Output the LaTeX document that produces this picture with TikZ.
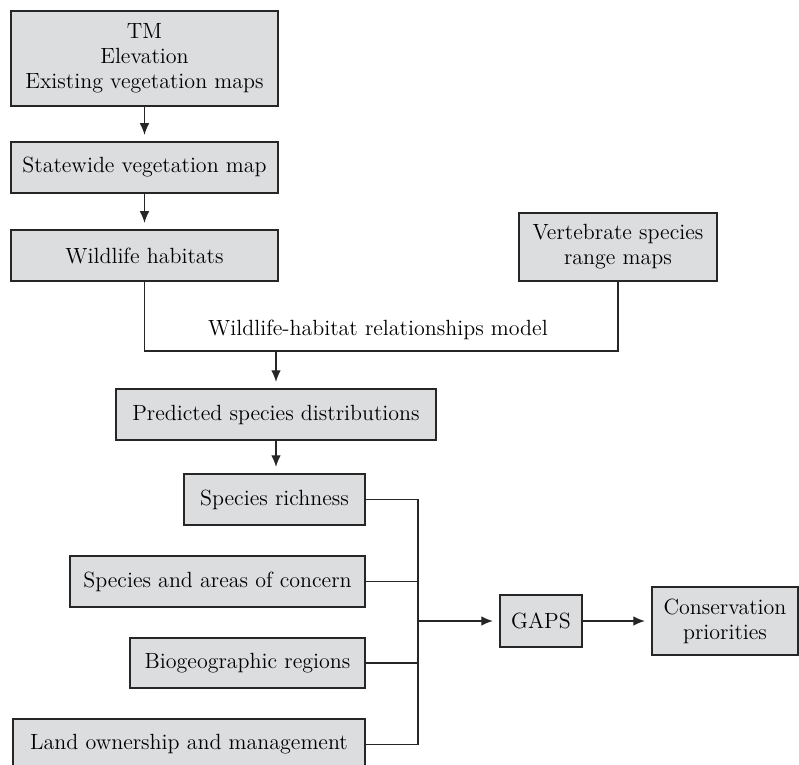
\documentclass[tikz,border=0pt]{standalone}
\usepackage{tikz}
\usetikzlibrary{arrows.meta}
\definecolor{boxgray}{RGB}{220,221,223}

\begin{document}
\begin{tikzpicture}[x=0.5pt,y=-0.5pt,
  box/.style={draw=black!85,fill=boxgray,line width=0.65pt,inner sep=0pt,align=center,
    font=\fontsize{11}{12.5}\selectfont},
  link/.style={line width=0.6pt,draw=black!85},
  >={Latex[length=5.8pt,width=4.8pt]}]
\useasboundingbox (0,0) rectangle (799,765);
\node[box,minimum width=133.5pt,minimum height=47.5pt] (tm) at (144.5,58.5) {TM\\Elevation\\Existing vegetation maps};
\node[box,minimum width=133.5pt,minimum height=25.5pt] (state) at (144.5,167.5) {Statewide vegetation map};
\node[box,minimum width=133.5pt,minimum height=25.5pt] (habitat) at (144.5,255.5) {Wildlife habitats};
\node[box,minimum width=99pt,minimum height=34pt] (range) at (618,247) {Vertebrate species\\range maps};
\node[box,minimum width=160pt,minimum height=25.5pt] (pred) at (276,414.5) {Predicted species distributions};
\node[box,minimum width=90.5pt,minimum height=25.5pt] (rich) at (274.5,499.5) {Species richness};
\node[box,minimum width=147.5pt,minimum height=25.5pt] (concern) at (217.5,581.5) {Species and areas of concern};
\node[box,minimum width=117.5pt,minimum height=25pt] (region) at (247.5,663) {Biogeographic regions};
\node[box,minimum width=176pt,minimum height=25.5pt] (land) at (189,744.5) {Land ownership and management};
\node[box,minimum width=41pt,minimum height=26pt] (gaps) at (541,621) {GAPS};
\node[box,minimum width=73pt,minimum height=34pt] (cons) at (725,621) {Conservation\\priorities};
\node[font=\fontsize{11}{12.5}\selectfont] (model) at (378,330) {Wildlife-habitat relationships model};
\coordinate (split) at (276,351);
\coordinate (bus) at (418,621);

\draw[->,link,shorten >=3.25pt] (tm) -- (state);
\draw[->,link,shorten >=3.25pt] (state) -- (habitat);
\draw[->,link,shorten >=3.25pt] (split) -- (pred);
\draw[->,link,shorten >=3.25pt] (pred.south) -- (pred.south |- rich.north);
\draw[->,link,shorten >=3.25pt] (bus) -- (gaps.west);
\draw[->,link,shorten >=3.25pt] (gaps) -- (cons);
\draw[link] (habitat.south) |- (split) -| (range.south);
\draw[link] (rich.east) -| (land.east -| bus) -- (land.east);
\foreach \n in {concern,region}
  \draw[link] (\n.east) -- (\n.east -| bus);

\end{tikzpicture}
\end{document}
